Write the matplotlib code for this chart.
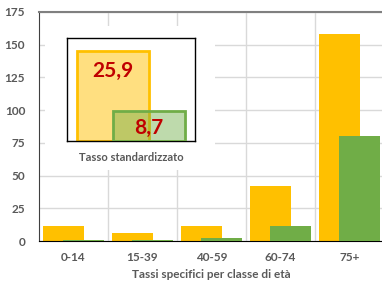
import numpy as np
import matplotlib.pyplot as plt

plt.rcParams['font.family'] = ['Lato', 'DejaVu Sans']

# age-specific rates
classi = ['0-14', '15-39', '40-59', '60-74', '75+']
tassi_a = [11.5, 6, 11.5, 42, 158.5]
tassi_b = [1, 1, 2.5, 11.5, 80]

# standardised rates
std_vals = [25.9, 8.7]
std_labels = ['25,9', '8,7']

orange = '#FFC000'
green = '#70AD47'
grey_txt = '#595959'

fig = plt.figure(figsize=(3.82, 2.82), dpi=100)
W, H = 382.0, 282.0


def fbox(x0, y0, x1, y1):
    """ pixel box (top-left origin) -> figure rect """
    return [x0 / W, 1 - y1 / H, (x1 - x0) / W, (y1 - y0) / H]


ax = fig.add_axes(fbox(39, 12, 384, 241))
x = np.arange(len(classi))
w = 0.58
off = 0.145
ax.bar(x - off, tassi_a, w, color=orange, zorder=2)
ax.bar(x + off, tassi_b, w, color=green, zorder=3)

ax.set_xlim(-0.5, len(classi) - 0.5)
ax.set_ylim(0, 175)
ax.set_yticks(np.arange(0, 176, 25))
ax.set_xticks(x)
ax.set_xticklabels(classi)
ax.set_xticks(np.arange(0.5, len(classi) - 0.5, 1), minor=True)
ax.grid(axis='y', color='#D9D9D9', linewidth=1, zorder=0)
ax.grid(axis='x', which='minor', color='#D9D9D9', linewidth=1, zorder=0)
ax.tick_params(axis='both', which='both', length=0)
ax.tick_params(axis='y', pad=10, labelsize=8.5, labelcolor=grey_txt)
ax.tick_params(axis='x', pad=8, labelsize=8.5, labelcolor=grey_txt)
for lab in ax.get_xticklabels() + ax.get_yticklabels():
    lab.set_fontweight('bold')
ax.set_axisbelow(True)
ax.spines['right'].set_visible(False)
ax.spines['top'].set_color('#808080')
ax.spines['top'].set_linewidth(1.5)
ax.spines['left'].set_color('#404040')
ax.spines['bottom'].set_color('black')
ax.set_xlabel('Tassi specifici per classe di età', fontsize=8.5, fontweight='bold',
              color=grey_txt, labelpad=4)

# white panel hosting the standardised-rate picture
panel = fig.add_axes(fbox(45, 26, 215, 170))
panel.set_facecolor('white')
panel.set_xticks([])
panel.set_yticks([])
for s in panel.spines.values():
    s.set_visible(False)
panel.text(0.507, 0.09, 'Tasso standardizzato', transform=panel.transAxes,
           ha='center', va='center', fontsize=8, fontweight='bold', color=grey_txt)

ins = fig.add_axes(fbox(67, 38, 195, 141))
ins.set_facecolor('white')
ins.set_xlim(-1.28, 2.28)
ins.set_ylim(0, 29.7)
ins.bar(0, std_vals[0], 2.0, facecolor='#FFDF80', edgecolor=orange, linewidth=2, zorder=2)
ins.bar(1, std_vals[1], 2.0, facecolor=(0.44, 0.68, 0.28, 0.45), edgecolor=green,
        linewidth=2, zorder=3)
ins.text(0, 20.2, std_labels[0], ha='center', va='center', fontsize=15,
         fontweight='bold', color='#C00000', zorder=4)
ins.text(1, 3.8, std_labels[1], ha='center', va='center', fontsize=15,
         fontweight='bold', color='#C00000', zorder=4)
ins.set_xticks([])
ins.set_yticks([])
for s in ins.spines.values():
    s.set_color('black')
    s.set_linewidth(1)

fig.savefig('out.png', dpi=100)
